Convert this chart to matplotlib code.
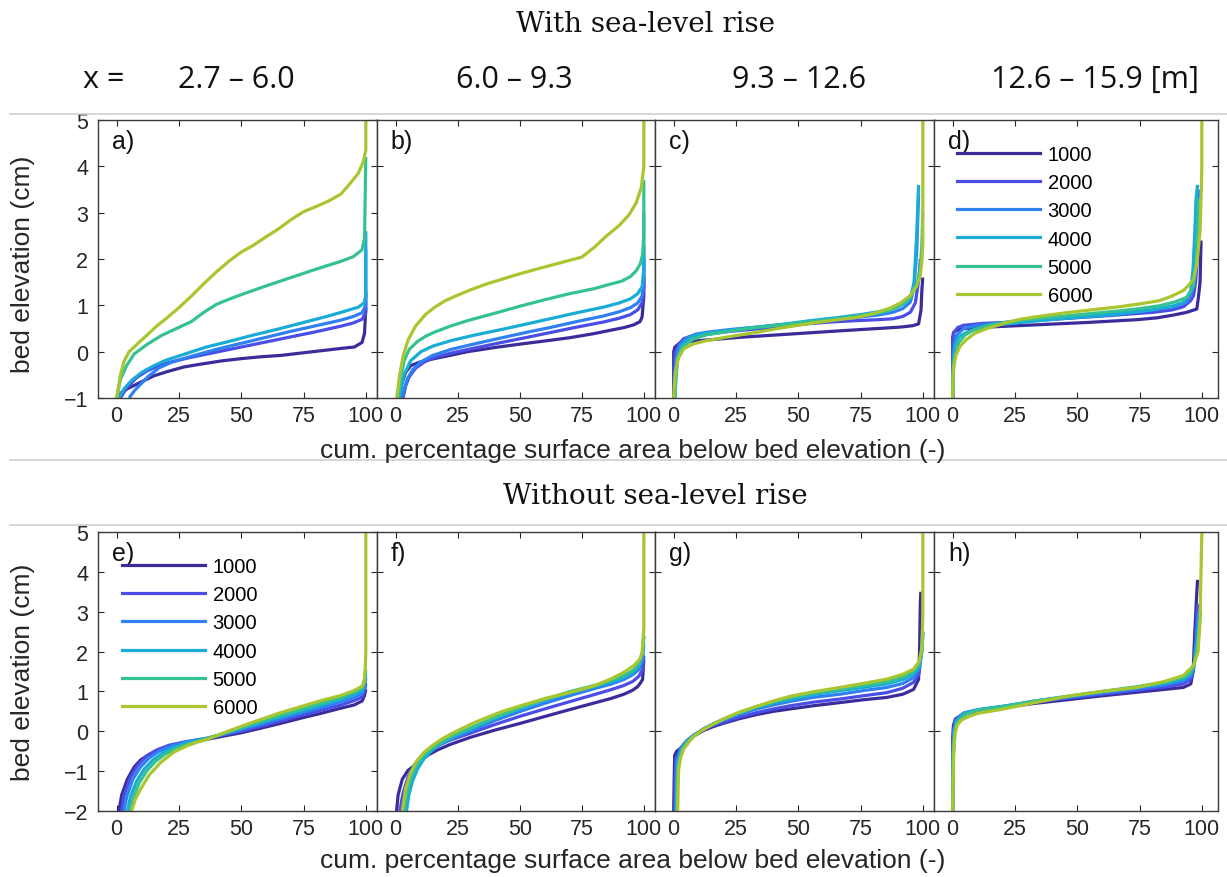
import matplotlib.pyplot as plt
from matplotlib.lines import Line2D

plt.rcParams['font.family'] = ['Liberation Sans', 'DejaVu Sans']

# legend entries and colours (parula-like)
years = ['1000', '2000', '3000', '4000', '5000', '6000']
colors = ['#3b2c9c', '#4a4de6', '#2f80f0', '#19acd6', '#35c292', '#a8c62f']
x_ranges = ['2.7 – 6.0', '6.0 – 9.3', '9.3 – 12.6', '12.6 – 15.9 [m]']
letters = ['a)', 'b)', 'c)', 'd)', 'e)', 'f)', 'g)', 'h)']
pct_ticks = [0, 25, 50, 75, 100]

# (cum. percentage, bed elevation), one list per year
# --- with sea-level rise ---
panel_a = [
    [(0.3, -1.0), (2, -0.88), (4.3, -0.8), (9.6, -0.66), (15, -0.52), (20.3, -0.43), (27, -0.33), (33.7, -0.27),
     (42, -0.2), (50, -0.15), (58, -0.11), (66, -0.08), (74, -0.03), (82, 0.02), (90, 0.07), (95.4, 0.1),
     (98.5, 0.2), (99.5, 0.4), (100, 0.95)],
    [(1.5, -1.0), (4, -0.78), (8, -0.56), (12, -0.42), (17, -0.3), (22, -0.22), (30, -0.12), (40, -0.01),
     (50, 0.1), (60, 0.21), (70, 0.32), (80, 0.43), (90, 0.55), (95, 0.62), (98.5, 0.7), (100, 0.85), (100, 1.3)],
    [(5, -1.0), (7, -0.85), (10, -0.68), (13, -0.52), (17, -0.35), (22, -0.23), (30, -0.1), (40, 0.05),
     (50, 0.18), (60, 0.31), (70, 0.44), (80, 0.56), (90, 0.68), (95, 0.76), (98.5, 0.84), (100, 1.0), (100, 2.2)],
    [(0.8, -1.0), (3, -0.8), (6, -0.62), (10, -0.45), (15, -0.3), (20, -0.18), (28, -0.04), (36, 0.1),
     (45, 0.22), (55, 0.36), (65, 0.49), (75, 0.63), (85, 0.77), (92, 0.88), (97, 0.96), (99.3, 1.05),
     (100, 1.2), (100, 2.6)],
    [(0, -1.0), (1.5, -0.6), (4, -0.3), (7, -0.05), (12, 0.15), (18, 0.35), (24, 0.5), (30, 0.65), (35, 0.85),
     (40, 1.02), (45, 1.13), (50, 1.23), (60, 1.42), (70, 1.6), (80, 1.78), (90, 1.95), (95, 2.05), (98.5, 2.2),
     (99.5, 2.45), (100, 4.2)],
    [(0, -1.0), (1.5, -0.5), (3, -0.2), (5, 0.0), (8, 0.15), (12, 0.35), (16, 0.55), (20, 0.72), (25, 0.95),
     (30, 1.2), (35, 1.47), (40, 1.72), (45, 1.95), (50, 2.15), (55, 2.3), (60, 2.48), (65, 2.65), (70, 2.85),
     (75, 3.02), (80, 3.13), (85, 3.25), (90, 3.4), (94, 3.65), (97, 3.85), (99, 4.1), (100, 4.35), (100, 5.5)],
]
panel_b = [
    [(1.5, -1.0), (2.5, -0.7), (4, -0.45), (6.1, -0.3), (10, -0.22), (15.6, -0.15), (22, -0.08), (29, 0.0),
     (40, 0.09), (49.7, 0.16), (60, 0.23), (70, 0.3), (80, 0.39), (86.4, 0.46), (92, 0.52), (96, 0.58),
     (98.5, 0.65), (99.3, 0.75), (100, 1.2), (100, 1.6)],
    [(3, -1.0), (4, -0.75), (5.4, -0.55), (8, -0.36), (11.6, -0.22), (16, -0.12), (22.4, -0.03), (32, 0.08),
     (42.8, 0.2), (53, 0.31), (63, 0.42), (73, 0.53), (83.7, 0.64), (90, 0.72), (94.6, 0.8), (97.5, 0.9),
     (99.3, 1.05), (100, 1.4), (100, 2.0)],
    [(2.5, -1.0), (3.5, -0.8), (4.8, -0.58), (7, -0.38), (10.2, -0.22), (15, -0.08), (22.4, 0.05), (32, 0.17),
     (42.8, 0.3), (53, 0.42), (63, 0.53), (73, 0.65), (83.7, 0.77), (90, 0.86), (94.6, 0.95), (97.5, 1.05),
     (99.3, 1.2), (100, 1.6), (100, 2.3)],
    [(1.4, -1.0), (2.5, -0.7), (3.4, -0.5), (6, -0.2), (10.2, 0.0), (15, 0.12), (22.4, 0.24), (32, 0.36),
     (42.8, 0.48), (53, 0.6), (63, 0.72), (73, 0.84), (83.7, 0.96), (90, 1.05), (94.6, 1.14), (97.5, 1.25),
     (99.3, 1.4), (100, 1.8), (100, 3.0)],
    [(1, -1.0), (2, -0.6), (3.4, -0.2), (5.5, 0.05), (8.8, 0.22), (12, 0.33), (15.6, 0.42), (22, 0.55),
     (29, 0.67), (40, 0.83), (50, 0.98), (60, 1.12), (70, 1.25), (80, 1.36), (86, 1.45), (91, 1.52),
     (94.6, 1.62), (97, 1.75), (98.6, 1.9), (99.5, 2.1), (100, 2.5), (100, 3.7)],
    [(0.5, -1.0), (1.5, -0.55), (3, -0.1), (5, 0.25), (8, 0.55), (12, 0.8), (16, 0.97), (20, 1.1), (25, 1.22),
     (30, 1.33), (36, 1.45), (42, 1.55), (50, 1.68), (56, 1.77), (63, 1.87), (70, 1.97), (75, 2.04), (80, 2.25),
     (85, 2.5), (90, 2.72), (94, 2.95), (97, 3.22), (99, 3.55), (100, 4.0), (100, 5.5)],
]
panel_c = [
    [(0, -1.0), (0, 0.0), (0.5, 0.1), (2.7, 0.2), (10.7, 0.24), (26.7, 0.31), (46.8, 0.38), (66.8, 0.45),
     (85, 0.51), (90.9, 0.53), (96, 0.56), (98.3, 0.6), (99.3, 0.9), (99.6, 1.3), (100, 1.6)],
    [(0, -1.0), (0.3, -0.3), (0.7, 0.0), (2, 0.15), (4, 0.28), (8, 0.35), (13.4, 0.38), (23, 0.44), (33.4, 0.49),
     (43, 0.54), (53.5, 0.6), (63, 0.64), (73.5, 0.67), (82, 0.69), (88, 0.71), (92, 0.76), (95, 0.85),
     (97, 1.05), (98.5, 1.6), (99, 2.0)],
    [(0.3, -1.0), (0.5, -0.5), (1, -0.1), (2.5, 0.15), (5.3, 0.3), (9, 0.38), (13.4, 0.42), (23, 0.48),
     (33.4, 0.53), (43, 0.58), (53.5, 0.64), (63, 0.69), (73.5, 0.74), (82, 0.79), (88, 0.85), (92, 0.93),
     (95, 1.07), (96.5, 1.4), (97.6, 2.2), (98.3, 3.4)],
    [(0.5, -1.0), (0.8, -0.6), (1.5, -0.2), (3, 0.12), (6.7, 0.31), (11, 0.38), (16, 0.42), (25, 0.48),
     (35, 0.54), (45, 0.6), (55, 0.67), (65, 0.73), (75, 0.8), (82, 0.86), (88, 0.93), (92, 1.02), (95, 1.14),
     (96.5, 1.5), (97.6, 2.57), (98.3, 3.6)],
    [(0.5, -1.0), (1, -0.5), (1.5, -0.15), (3.5, 0.1), (8, 0.28), (13, 0.36), (20, 0.42), (30, 0.5), (40, 0.56),
     (50, 0.62), (60, 0.67), (70, 0.74), (80, 0.81), (86, 0.88), (90.9, 0.99), (94.5, 1.15), (97.6, 1.42),
     (99, 1.8), (99.6, 2.3), (100, 3.0)],
    [(0, -1.0), (0.3, -0.7), (0.7, -0.44), (1.8, -0.15), (4, 0.06), (8, 0.17), (13.4, 0.24), (23, 0.33),
     (33.4, 0.42), (43, 0.51), (53.5, 0.6), (63, 0.67), (73.5, 0.74), (80, 0.82), (86.9, 0.94), (91, 1.05),
     (95, 1.21), (97.5, 1.42), (99, 1.64), (99.7, 2.0), (100, 2.3), (100, 5.5)],
]
panel_d = [
    [(0, -1.0), (0, 0.3), (0.4, 0.42), (3, 0.49), (13.8, 0.53), (33.8, 0.58), (53.9, 0.63), (73.9, 0.69),
     (82, 0.73), (88.6, 0.79), (94, 0.85), (98, 0.92), (98.7, 1.2), (99.3, 1.5), (99.7, 2.4)],
    [(0, -1.0), (0, 0.1), (0.3, 0.4), (2, 0.52), (4.4, 0.57), (12, 0.61), (20.5, 0.63), (40.5, 0.7), (60.6, 0.77),
     (80.6, 0.85), (88, 0.9), (92.6, 0.97), (95.5, 1.1), (96.7, 1.21), (97.5, 1.5), (98, 1.85), (98.7, 2.57),
     (99, 3.0)],
    [(0, -1.0), (0.2, -0.2), (0.4, 0.05), (1.5, 0.35), (4.4, 0.5), (10, 0.57), (20, 0.62), (35, 0.69), (50, 0.76),
     (65, 0.82), (80, 0.9), (90, 0.98), (94, 1.08), (96, 1.28), (97, 1.8), (98, 2.57), (98.7, 3.5)],
    [(0, -1.0), (0.3, -0.22), (1, 0.15), (2.5, 0.32), (5.7, 0.42), (12, 0.53), (20, 0.59), (35, 0.67), (50, 0.74),
     (65, 0.8), (80, 0.9), (88, 0.98), (92.6, 1.06), (95.5, 1.3), (96.5, 1.8), (97.2, 2.6), (97.7, 3.3),
     (98.3, 3.6)],
    [(0, -1.0), (0.2, -0.5), (0.7, -0.15), (2.5, 0.2), (5, 0.36), (8.4, 0.47), (15, 0.58), (24.5, 0.66),
     (35, 0.72), (47, 0.78), (57, 0.83), (67, 0.88), (75, 0.93), (83, 0.99), (89, 1.07), (94, 1.17),
     (96.7, 1.42), (97.5, 1.8), (98, 2.2), (98.8, 3.3)],
    [(0, -1.0), (0.1, -0.6), (0.4, -0.3), (1.5, -0.05), (3, 0.12), (5.7, 0.27), (9, 0.4), (13.8, 0.5), (20, 0.6),
     (27, 0.7), (37, 0.78), (47, 0.85), (57, 0.91), (67, 0.97), (75, 1.03), (83, 1.1), (88, 1.2), (92.6, 1.32),
     (95, 1.45), (96.7, 1.57), (98, 1.9), (99.3, 2.6), (99.8, 3.5), (100, 4.0), (100, 5.5)],
]
# --- without sea-level rise ---
panel_e = [
    [(0.9, -2.0), (2, -1.6), (4.3, -1.2), (7, -0.9), (9.6, -0.72), (13, -0.58), (17.7, -0.45), (22, -0.36),
     (27, -0.29), (32, -0.24), (36.4, -0.2), (43, -0.12), (49.8, -0.04), (58, 0.08), (65.9, 0.2), (74, 0.33),
     (82, 0.45), (90, 0.58), (95.3, 0.66), (98.5, 0.76), (99.5, 0.9), (100, 1.05)],
    [(1.9, -2.0), (3, -1.6), (5.5, -1.15), (8.5, -0.85), (12, -0.62), (16, -0.47), (21, -0.35), (27, -0.27),
     (32, -0.22), (36.4, -0.18), (43, -0.09), (49.8, 0.0), (58, 0.13), (65.9, 0.26), (74, 0.4), (82, 0.53),
     (90, 0.66), (95.3, 0.77), (98.5, 0.86), (99.5, 1.0), (100, 1.2)],
    [(2.9, -2.0), (4, -1.65), (6.5, -1.2), (9.5, -0.9), (13, -0.67), (17, -0.5), (22, -0.37), (27, -0.28),
     (32, -0.22), (36.4, -0.17), (43, -0.07), (49.8, 0.04), (58, 0.18), (65.9, 0.32), (74, 0.46), (82, 0.6),
     (90, 0.74), (95.3, 0.85), (98.5, 0.95), (99.5, 1.1), (100, 1.35)],
    [(4.3, -2.0), (5.5, -1.65), (8, -1.25), (11, -0.95), (14.5, -0.72), (18.5, -0.54), (23, -0.4), (28, -0.3),
     (32, -0.24), (36.4, -0.18), (43, -0.06), (49.8, 0.07), (58, 0.22), (65.9, 0.37), (74, 0.51), (82, 0.65),
     (90, 0.8), (95.3, 0.92), (98.5, 1.02), (99.5, 1.2), (100, 1.45)],
    [(5.4, -2.0), (6.5, -1.7), (9, -1.3), (12, -1.0), (15.5, -0.76), (19.5, -0.57), (24, -0.43), (28.5, -0.32),
     (32.5, -0.25), (36.4, -0.18), (43, -0.05), (49.8, 0.09), (58, 0.25), (65.9, 0.4), (74, 0.55), (82, 0.7),
     (90, 0.85), (95.3, 0.98), (98.5, 1.08), (99.5, 1.3), (100, 1.55)],
    [(6, -2.0), (7.5, -1.7), (9.6, -1.45), (13, -1.1), (17.7, -0.78), (23, -0.52), (28.4, -0.36), (32.5, -0.27),
     (36.4, -0.2), (43, -0.04), (49.8, 0.12), (58, 0.3), (65.9, 0.47), (74, 0.62), (82, 0.77), (90, 0.9),
     (95.3, 1.02), (98.5, 1.13), (99.3, 1.23), (99.8, 1.6), (100, 2.0), (100, 5.5)],
]
panel_f = [
    [(0.4, -2.0), (1, -1.6), (2.7, -1.2), (5, -0.98), (7.4, -0.87), (10, -0.75), (13, -0.6), (16.8, -0.47),
     (22, -0.33), (30.2, -0.15), (40, 0.03), (50.3, 0.2), (60, 0.37), (70.5, 0.55), (80, 0.71), (86.6, 0.82),
     (92, 0.93), (95.5, 1.03), (97.5, 1.12), (98.5, 1.2), (99.5, 1.3), (100, 1.8)],
    [(1.7, -2.0), (3, -1.55), (5, -1.15), (7.5, -0.85), (10, -0.65), (13, -0.49), (17, -0.36), (22, -0.22),
     (30, -0.05), (40, 0.17), (50.3, 0.38), (60, 0.56), (70.5, 0.75), (80, 0.92), (86.6, 1.04), (92, 1.15),
     (95.5, 1.25), (98, 1.38), (99.5, 1.55), (100, 1.9)],
    [(4, -2.0), (5, -1.6), (6.5, -1.25), (8.5, -0.95), (11, -0.7), (14, -0.5), (18, -0.33), (23, -0.17),
     (30, 0.0), (40, 0.27), (50.3, 0.5), (60, 0.7), (70.5, 0.9), (80, 1.07), (86.6, 1.18), (92, 1.3),
     (95.5, 1.42), (98, 1.55), (99.5, 1.8), (100, 2.2)],
    [(4.4, -2.0), (5.3, -1.6), (6.8, -1.25), (8.8, -0.95), (11.3, -0.7), (14.3, -0.5), (18, -0.32), (23, -0.14),
     (30, 0.05), (40, 0.33), (50.3, 0.58), (60, 0.78), (70.5, 0.97), (80, 1.12), (86.6, 1.23), (92, 1.35),
     (95.5, 1.48), (98, 1.65), (99.5, 1.95), (100, 2.4)],
    [(3.4, -2.0), (4.5, -1.55), (6, -1.2), (8, -0.9), (10.5, -0.66), (13.5, -0.47), (17.5, -0.3), (23, -0.11),
     (30, 0.08), (40, 0.35), (50.3, 0.6), (60, 0.8), (70.5, 1.0), (80, 1.15), (86.6, 1.27), (92, 1.4),
     (95.5, 1.52), (98, 1.68), (99.5, 2.0), (100, 2.4)],
    [(2.7, -2.0), (4, -1.45), (6, -1.04), (8.5, -0.75), (11.4, -0.53), (15, -0.35), (19, -0.18), (23.5, -0.03),
     (30, 0.17), (36.9, 0.35), (43, 0.5), (50.3, 0.64), (60, 0.82), (70.5, 0.98), (80, 1.14), (86.6, 1.31),
     (92, 1.48), (96, 1.65), (98.5, 1.82), (99.3, 1.98), (100, 2.57), (100, 5.5)],
]
panel_g = [
    [(0, -2.0), (0.2, -1.2), (0.4, -0.6), (1.2, -0.5), (2.7, -0.43), (5, -0.28), (8, -0.12), (12, 0.02),
     (16, 0.12), (20, 0.2), (26, 0.31), (33.4, 0.42), (40, 0.5), (46.8, 0.56), (56, 0.64), (66.8, 0.72),
     (76, 0.79), (85.6, 0.85), (92, 0.93), (96.3, 1.05), (98.3, 1.3), (98.7, 2.0), (99, 3.2), (99.2, 3.5)],
    [(0.4, -2.0), (0.6, -1.2), (0.9, -0.7), (2.5, -0.45), (5, -0.25), (8, -0.1), (12, 0.05), (16, 0.15),
     (20, 0.23), (26, 0.35), (33.4, 0.47), (40, 0.56), (46.8, 0.64), (56, 0.73), (66.8, 0.81), (76, 0.89),
     (85.6, 0.97), (92, 1.08), (96.3, 1.23), (98.5, 1.45), (99.5, 2.0), (100, 2.5)],
    [(0.8, -2.0), (1, -1.2), (1.3, -0.75), (2.8, -0.45), (5, -0.26), (8, -0.1), (12, 0.06), (16, 0.18),
     (20, 0.28), (26, 0.42), (33.4, 0.56), (40, 0.66), (46.8, 0.75), (56, 0.85), (66.8, 0.93), (76, 1.02),
     (85.6, 1.1), (92, 1.2), (96.3, 1.35), (98.5, 1.55), (99.6, 2.0), (100, 2.4)],
    [(1.1, -2.0), (1.3, -1.3), (1.6, -0.8), (3, -0.47), (5, -0.28), (8, -0.11), (12, 0.06), (16, 0.19),
     (20, 0.3), (26, 0.45), (33.4, 0.6), (40, 0.71), (46.8, 0.8), (56, 0.92), (66.8, 1.02), (76, 1.1),
     (85.6, 1.19), (92, 1.3), (96.3, 1.44), (98.5, 1.62), (99.6, 2.0), (100, 2.5)],
    [(1.3, -2.0), (1.5, -1.35), (1.8, -0.85), (3.2, -0.48), (5.2, -0.28), (8, -0.12), (12, 0.05), (16, 0.19),
     (20, 0.3), (26, 0.46), (33.4, 0.62), (40, 0.74), (46.8, 0.84), (56, 0.96), (66.8, 1.06), (76, 1.15),
     (85.6, 1.24), (92, 1.36), (96.3, 1.5), (98.5, 1.68), (99.6, 2.0), (100, 2.5)],
    [(1.6, -2.0), (1.8, -1.4), (2, -0.95), (2.8, -0.65), (4, -0.45), (6, -0.28), (8, -0.13), (10.7, 0.0),
     (15, 0.15), (20, 0.31), (26, 0.47), (33.4, 0.63), (40, 0.76), (46.8, 0.88), (56, 0.99), (66.8, 1.1),
     (76, 1.2), (85.6, 1.31), (92, 1.43), (96.3, 1.56), (98.5, 1.75), (99.6, 2.07), (100, 2.82), (100, 5.5)],
]
panel_h = [
    [(0, -2.0), (0, -0.2), (0.3, 0.15), (1.1, 0.31), (4.4, 0.43), (10, 0.5), (20.5, 0.6), (33, 0.7), (47.2, 0.8),
     (60, 0.89), (74, 0.98), (85, 1.05), (92.6, 1.1), (95.6, 1.19), (96.5, 1.5), (97.2, 2.5), (98, 3.5),
     (98.3, 3.8)],
    [(0, -2.0), (0, -0.5), (0.3, 0.05), (1.2, 0.3), (4.4, 0.45), (10, 0.53), (20.5, 0.62), (33, 0.73),
     (47.2, 0.84), (60, 0.93), (74, 1.03), (85, 1.11), (92.6, 1.19), (95.6, 1.3), (96.8, 1.6), (97.5, 2.2),
     (98.3, 3.2)],
    [(0, -2.0), (0.1, -0.6), (0.4, 0.0), (1.4, 0.28), (4.4, 0.46), (10, 0.54), (20.5, 0.63), (33, 0.75),
     (47.2, 0.86), (60, 0.96), (74, 1.07), (85, 1.16), (92.6, 1.26), (95.6, 1.38), (97, 1.7), (97.8, 2.3),
     (98.5, 3.0)],
    [(0, -2.0), (0.2, -0.6), (0.6, 0.0), (1.6, 0.26), (4.6, 0.45), (10, 0.54), (20.5, 0.63), (33, 0.76),
     (47.2, 0.88), (60, 0.99), (74, 1.1), (85, 1.2), (92.6, 1.31), (95.6, 1.45), (97, 1.7), (98, 2.2), (99, 2.8)],
    [(0, -2.0), (0.3, -0.6), (0.8, -0.05), (1.8, 0.22), (5, 0.42), (10, 0.53), (20.5, 0.62), (33, 0.76),
     (47.2, 0.89), (60, 1.0), (74, 1.12), (85, 1.23), (92.6, 1.35), (95.6, 1.48), (97, 1.7), (98.5, 2.2),
     (99.5, 3.0)],
    [(0, -2.0), (0.2, -1.2), (0.4, -0.53), (1, -0.05), (1.7, 0.14), (3.5, 0.28), (5.7, 0.35), (10, 0.45),
     (20.5, 0.56), (33, 0.72), (47.2, 0.89), (60, 1.0), (74, 1.1), (85, 1.25), (92.6, 1.4), (96.7, 1.65),
     (98.5, 2.0), (99.3, 2.82), (100, 5.0), (100, 5.5)],
]

W, H = 1227, 878
fig = plt.figure(figsize=(W / 100, H / 100), dpi=100)


def px_box(left, top, right, bottom):
    return [left / W, 1 - bottom / H, (right - left) / W, (bottom - top) / H]


cols = [(98, 377, (-7.5, 104.5)), (377, 655, (-7.5, 104.5)),
        (655, 934, (-7.5, 104.5)), (934, 1218, (-7.5, 106.5))]
rows = [(121, 399, (-1, 5)), (533, 812, (-2, 5))]
panels = [panel_a, panel_b, panel_c, panel_d, panel_e, panel_f, panel_g, panel_h]

dark = '#262626'
axes = []
for r, (top, bottom, ylim) in enumerate(rows):
    for c, (left, right, xlim) in enumerate(cols):
        k = r * 4 + c
        ax = fig.add_axes(px_box(left, top, right, bottom))
        for series, col in zip(panels[k], colors):
            xs = [p[0] for p in series]
            ys = [p[1] for p in series]
            ax.plot(xs, ys, color=col, lw=2.3, solid_capstyle='butt')
        ax.set_xlim(*xlim)
        ax.set_ylim(*ylim)
        ax.set_xticks(pct_ticks)
        if c == 0:
            ax.set_yticks(range(ylim[0], ylim[1] + 1))
        else:
            ax.set_yticks([0, 2, 4])
            ax.set_yticklabels([])
        ax.tick_params(direction='in', length=4, width=0.8, top=True, right=True,
                       colors=dark, labelsize=15.5, pad=5)
        ax.tick_params(axis='y', pad=7)
        for s in ax.spines.values():
            s.set_color('#3a3a3a')
            s.set_linewidth(1.0)
        ax.text(0.05, 0.925, letters[k], transform=ax.transAxes, fontsize=18,
                va='center', ha='left', color='#111111')
        axes.append(ax)

# legends in panels d and e
handles = [Line2D([], [], color=col, lw=2.3) for col in colors]
for ax, anchor in [(axes[3], (0.081, 0.911)), (axes[4], (0.086, 0.911))]:
    ax.legend(handles, years, loc='upper left', bbox_to_anchor=anchor, frameon=False,
              fontsize=14.5, handlelength=4.1, handletextpad=0.4, labelspacing=0.46,
              borderpad=0, borderaxespad=0)

# separators
for y in [115, 461, 526]:
    fig.add_artist(Line2D([10 / W, 1], [1 - y / H, 1 - y / H], color='#cfcfcf', lw=1.2))

serif = ['DejaVu Serif']
fig.text(646 / W, 1 - 25 / H, 'With sea-level rise', family=serif, fontsize=20,
         ha='center', va='center', color='#111111')
fig.text(655 / W, 1 - 497 / H, 'Without sea-level rise', family=serif, fontsize=20,
         ha='center', va='center', color='#111111')

fig.text(104 / W, 1 - 88 / H, 'x =', family=['Open Sans'], fontsize=22,
         ha='center', va='baseline', color='#111111')
for cx, lab in zip([236, 514, 799, 1095], x_ranges):
    fig.text(cx / W, 1 - 88 / H, lab, family=['Open Sans'], fontsize=22,
             ha='center', va='baseline', color='#111111')

xlab = 'cum. percentage surface area below bed elevation (-)'
fig.text(633 / W, 1 - 451 / H, xlab, fontsize=19, ha='center', va='center', color=dark)
fig.text(633 / W, 1 - 861 / H, xlab, fontsize=19, ha='center', va='center', color=dark)
fig.text(23 / W, 1 - 264 / H, 'bed elevation (cm)', fontsize=19, rotation=90,
         ha='center', va='center', color=dark)
fig.text(23 / W, 1 - 672 / H, 'bed elevation (cm)', fontsize=19, rotation=90,
         ha='center', va='center', color=dark)

fig.savefig('out.png', dpi=100)
